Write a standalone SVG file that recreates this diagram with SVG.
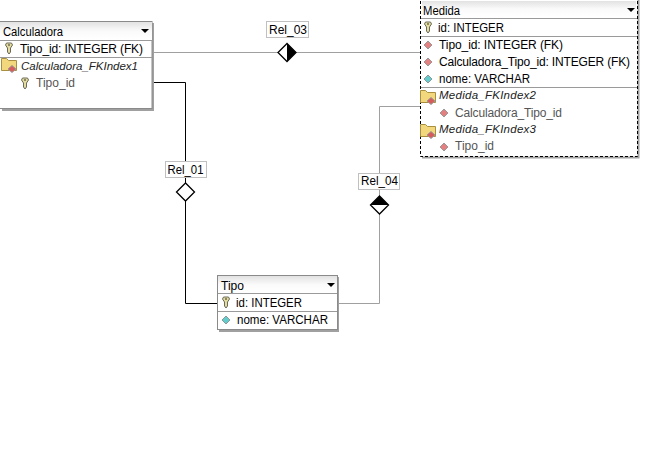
<svg xmlns="http://www.w3.org/2000/svg" width="670" height="452" viewBox="0 0 670 452">
<style>
text{font-family:"Liberation Sans",Arial,sans-serif;font-size:12px;fill:#000}
.g{fill:#555}
.i{font-style:italic;font-size:11.5px;fill:#222}
.box{fill:#fff;stroke:#8a8a8a;stroke-width:1}
.shadow{fill:#a0a0a0}
.sep{stroke:#9a9a9a;stroke-width:1;fill:none}
.head{fill:url(#hg)}
.gl{fill:none;stroke:#a0a0a0;stroke-width:1}
.bl{fill:none;stroke:#000;stroke-width:1}
.lab{fill:#fff;stroke:#c0c0c0;stroke-width:1}
.dia{fill:#fff;stroke:#000;stroke-width:1.3}
</style>
<defs>
<linearGradient id="hg" x1="0" y1="0" x2="0" y2="1"><stop offset="0" stop-color="#e2e2e2"/><stop offset="0.5" stop-color="#fafafa"/><stop offset="1" stop-color="#ffffff"/></linearGradient>
<g id="key"><path d="M-2.500-5h5l1 2-2 3v4l-1.500 2-1.500-2v-4l-2-3z" fill="#e4dc9c" stroke="#6a6a5a" stroke-width="1"/><path d="M-1-3h2" stroke="#333"/></g>
<g id="red"><path d="M0-4L4 0 0 4-4 0z" fill="#e58080" stroke="#999" stroke-width="1"/></g>
<g id="cyan"><path d="M0-4L4 0 0 4-4 0z" fill="#62cccc" stroke="#8a9a9a" stroke-width="1"/></g>
<g id="folder"><path d="M-7.500-6.500h5l2 2h8v10h-15z" fill="#f3d77c" stroke="#a89040" stroke-width="1"/><path d="M3 .5l4 3.500-4 3.500-4-3.500z" fill="#d85a5a" stroke="#999" stroke-width="1"/></g>
<path id="arrow" d="M0 0h8l-4 4z" fill="#000"/>
</defs>
<rect width="670" height="452" fill="#fff"/>
<g id="connectors">
<path class="gl" d="M153 52.500H278M296 52.500H420"/>
<path class="gl" d="M338 303.500H379.500V214M379.500 196V106.500H420"/>
<path class="bl" d="M153 82.500H185.500V183M185.500 201V303.500H218"/>
<g id="rel_03"><path d="M287 43.500L278 52.500 287 61.500 296 52.500z" class="dia"/><path d="M287 43.500L296 52.500 287 61.500z" fill="#000"/><rect class="lab" x="266.500" y="21.500" width="42" height="16"/><text x="269" y="34" textLength="38" lengthAdjust="spacingAndGlyphs">Rel_03</text></g>
<g id="rel_01"><path d="M185.500 183L176.500 192 185.500 201 194.500 192z" class="dia"/><rect class="lab" x="165.500" y="161.500" width="41" height="16"/><text x="167.500" y="174" textLength="36" lengthAdjust="spacingAndGlyphs">Rel_01</text></g>
<g id="rel_04"><path d="M379.500 196L370.500 205 379.500 214 388.500 205z" class="dia"/><path d="M379.500 196L370.500 205H388.500z" fill="#000"/><rect class="lab" x="358.500" y="173.500" width="41" height="16"/><text x="361" y="185" textLength="37" lengthAdjust="spacingAndGlyphs">Rel_04</text></g>
</g>
<g id="calculadora">
<rect class="shadow" x="2" y="23" width="152" height="88"/>
<rect class="box" x="-1" y="21.500" width="153" height="87"/>
<rect class="head" x="0" y="22" width="152" height="18"/>
<path class="sep" d="M0 40.500H152M0 57.500H152"/>
<text x="3" y="36" textLength="60" lengthAdjust="spacingAndGlyphs">Calculadora</text>
<use href="#arrow" x="141" y="29"/>
<use href="#key" x="9" y="48"/><text x="20" y="53" textLength="123">Tipo_id: INTEGER (FK)</text>
<use href="#folder" x="9" y="65"/><text class="i" x="21" y="70" textLength="117">Calculadora_FKIndex1</text>
<use href="#key" x="25" y="83"/><text class="g" x="36" y="87" textLength="39">Tipo_id</text>
</g>
<g id="medida">
<rect class="shadow" x="422" y="0" width="217.500" height="158.500"/>
<rect x="420.500" y="-2" width="217" height="158.500" fill="#fff" stroke="#000" stroke-dasharray="3 2"/>
<rect class="head" x="422" y="1" width="214" height="16"/>
<path class="sep" d="M421 18.500H637M421 36.500H637M421 87.500H637"/>
<text x="423" y="15" textLength="37" lengthAdjust="spacingAndGlyphs">Medida</text>
<use href="#arrow" x="627" y="8"/>
<use href="#key" x="428" y="27"/><text x="438" y="32" textLength="66" lengthAdjust="spacingAndGlyphs">id: INTEGER</text>
<use href="#red" x="428" y="45"/><text x="439" y="49" textLength="124">Tipo_id: INTEGER (FK)</text>
<use href="#red" x="428" y="62"/><text x="439" y="66" textLength="191">Calculadora_Tipo_id: INTEGER (FK)</text>
<use href="#cyan" x="428" y="79"/><text x="439" y="83" textLength="91" lengthAdjust="spacingAndGlyphs">nome: VARCHAR</text>
<use href="#folder" x="428" y="97"/><text class="i" x="439" y="99" textLength="97">Medida_FKIndex2</text>
<use href="#red" x="444" y="113"/><text class="g" x="455" y="117" textLength="107">Calculadora_Tipo_id</text>
<use href="#folder" x="428" y="131"/><text class="i" x="439" y="133" textLength="97">Medida_FKIndex3</text>
<use href="#red" x="444" y="147"/><text class="g" x="455" y="150" textLength="39">Tipo_id</text>
</g>
<g id="tipo">
<rect class="shadow" x="219" y="277" width="120" height="55"/>
<rect class="box" x="217.500" y="275.500" width="120" height="54"/>
<rect class="head" x="218" y="276" width="119" height="17"/>
<path class="sep" d="M218 293.500H337M218 311.500H337"/>
<text x="221" y="290" textLength="23" lengthAdjust="spacingAndGlyphs">Tipo</text>
<use href="#arrow" x="327" y="283"/>
<use href="#key" x="226" y="302"/><text x="236" y="307" textLength="66" lengthAdjust="spacingAndGlyphs">id: INTEGER</text>
<use href="#cyan" x="226" y="320"/><text x="237" y="324" textLength="91" lengthAdjust="spacingAndGlyphs">nome: VARCHAR</text>
</g>
</svg>
